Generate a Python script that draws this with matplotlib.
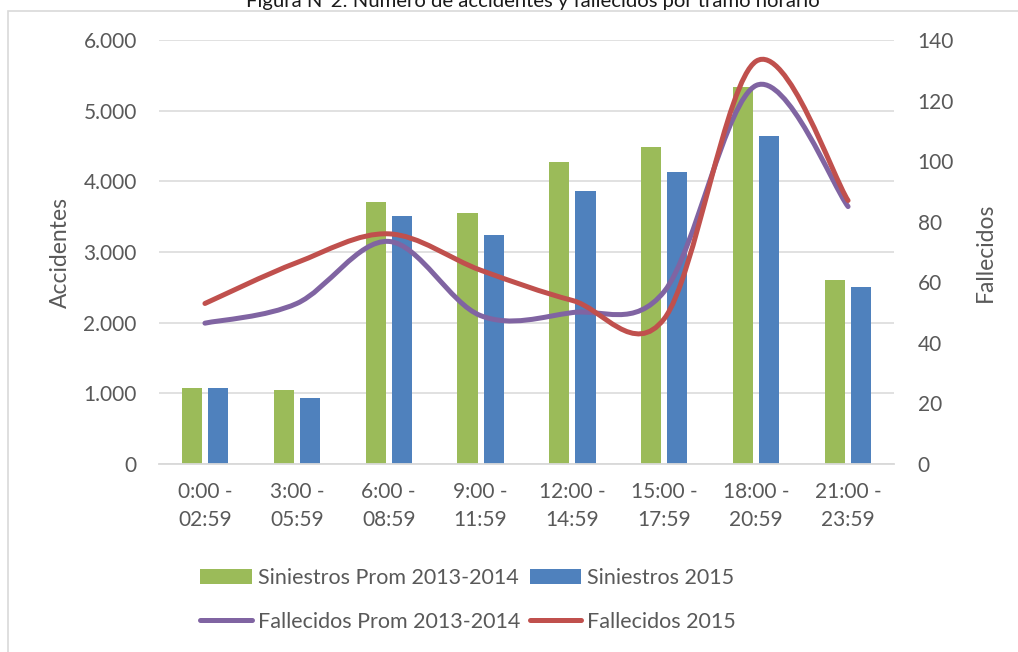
import matplotlib

matplotlib.use("Agg")
import matplotlib.pyplot as plt
import numpy as np
from matplotlib.lines import Line2D
from matplotlib.patches import PathPatch, Rectangle
from matplotlib.path import Path

plt.rcParams["font.family"] = ["Lato", "DejaVu Sans"]

# --- data ------------------------------------------------------------------ #
tramos = [
    "0:00 -\n02:59", "3:00 -\n05:59", "6:00 -\n08:59", "9:00 -\n11:59",
    "12:00 -\n14:59", "15:00 -\n17:59", "18:00 -\n20:59", "21:00 -\n23:59",
]
siniestros_prom = [1080, 1050, 3705, 3550, 4270, 4485, 5335, 2605]
siniestros_2015 = [1070, 935, 3515, 3235, 3865, 4135, 4645, 2505]
fallecidos_prom = [46.5, 53, 73.5, 49, 50, 57, 125, 85]
fallecidos_2015 = [53, 66.5, 76, 64, 54, 48, 133, 87]

acc_ticks = [0, 1000, 2000, 3000, 4000, 5000, 6000]
fall_ticks = [0, 20, 40, 60, 80, 100, 120, 140]

GREEN = "#9BBB59"
BLUE = "#4F81BD"
PURPLE = "#8064A2"
RED = "#C0504D"
GRID = "#D9D9D9"
TEXT = "#595959"
FS = 15


def smooth_path(xs, ys):
    """Cubic Bezier path through the points, Catmull-Rom tangents (Excel-style smoothing)."""
    pts = np.column_stack([xs, ys]).astype(float)
    padded = np.vstack([pts[:1], pts, pts[-1:]])
    verts = [pts[0]]
    codes = [Path.MOVETO]
    for i in range(len(pts) - 1):
        p0, p1, p2, p3 = padded[i], padded[i + 1], padded[i + 2], padded[i + 3]
        verts += [p1 + (p2 - p0) / 6, p2 - (p3 - p1) / 6, p2]
        codes += [Path.CURVE4] * 3
    return Path(verts, codes)


W, H = 1018, 652
fig = plt.figure(figsize=(W / 100, H / 100), dpi=100)
ax = fig.add_axes([159 / W, 1 - 464 / H, (894 - 159) / W, (464 - 40) / H])

x = np.arange(len(tramos))
b1 = ax.bar(x - 0.142, siniestros_prom, width=0.22, color=GREEN, zorder=2)
b2 = ax.bar(x + 0.142, siniestros_2015, width=0.22, color=BLUE, zorder=2)

ax.set_xlim(-0.5, len(tramos) - 0.5)
ax.set_ylim(0, 6000)
ax.set_yticks(acc_ticks)
ax.set_yticklabels([f"{v:,}".replace(",", ".") for v in acc_ticks])
ax.set_xticks(x)
ax.set_xticklabels(tramos, linespacing=1.5)
ax.grid(axis="y", color=GRID, lw=1.1)
ax.set_axisbelow(True)
for s in ("left", "right", "top"):
    ax.spines[s].set_visible(False)
ax.spines["bottom"].set_color(GRID)
ax.spines["bottom"].set_linewidth(1.3)
ax.tick_params(axis="y", length=0, labelsize=FS, labelcolor=TEXT, pad=16)
ax.tick_params(axis="x", length=0, labelsize=FS, labelcolor=TEXT, pad=13)
ax.set_ylabel("Accidentes", fontsize=16.5, color=TEXT, labelpad=9)

ax2 = ax.twinx()
ax2.set_ylim(0, 140)
ax2.set_yticks(fall_ticks)
for s in ax2.spines.values():
    s.set_visible(False)
ax2.tick_params(axis="y", length=0, labelsize=FS, labelcolor=TEXT, pad=17)
ax2.set_ylabel("Fallecidos", fontsize=16.5, color=TEXT, labelpad=15)

for vals, color in ((fallecidos_prom, PURPLE), (fallecidos_2015, RED)):
    ax2.add_patch(PathPatch(smooth_path(x, vals), facecolor="none", edgecolor=color,
                            lw=3.6, capstyle="round", joinstyle="round"))

handles = [
    b1,
    Line2D([], [], color=PURPLE, lw=3.6, solid_capstyle="round"),
    b2,
    Line2D([], [], color=RED, lw=3.6, solid_capstyle="round"),
]
labels = ["Siniestros Prom 2013-2014", "Fallecidos Prom 2013-2014",
          "Siniestros 2015", "Fallecidos 2015"]
leg = fig.legend(handles, labels, ncol=2, loc="center", bbox_to_anchor=(468 / W, 1 - 600 / H),
                 frameon=False, fontsize=15.5, handlelength=2.4, handletextpad=0.28,
                 columnspacing=0.45, labelspacing=1.08, borderpad=0)
for t in leg.get_texts():
    t.set_color(TEXT)

# chart frame and title sitting on its upper edge
fig.patches.append(Rectangle((8 / W, -0.1), 1.2, 1.1 - 11 / H, transform=fig.transFigure,
                             facecolor="none", edgecolor=GRID, lw=1.2))
fig.text(533 / W, 1 - 7.5 / H, "Figura N°2: Número de accidentes y fallecidos por tramo horario",
         ha="center", va="baseline", fontsize=14.6, color="#1a1a1a")

fig.savefig("out.png", dpi=100)
